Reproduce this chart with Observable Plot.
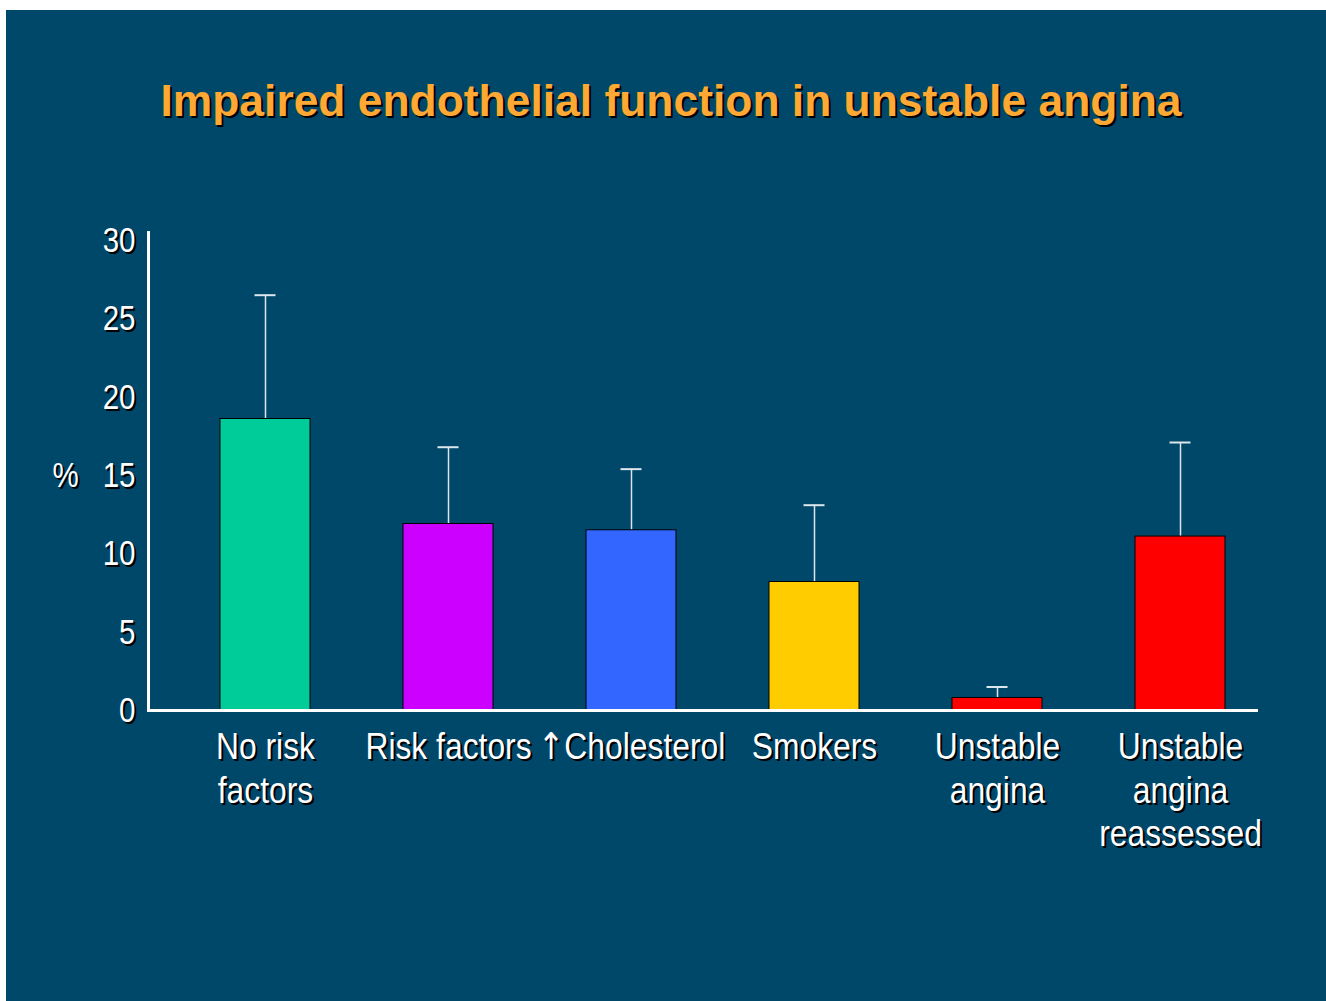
<!DOCTYPE html>
<html>
<head>
<meta charset="utf-8">
<script src="https://cdn.jsdelivr.net/npm/d3@7"></script>
<script src="https://cdn.jsdelivr.net/npm/@observablehq/plot@0.6"></script>
<style>
  html, body { margin: 0; padding: 0; background: #ffffff; }
  #panel { position: absolute; left: 6px; top: 10px; width: 1320px; height: 991px; background: #00486a; overflow: hidden; }
  #title { position: absolute; left: 0; width: 1330px; top: 69px; text-align: center;
    font-family: "Liberation Sans", Arial, sans-serif; font-weight: bold; font-size: 44.4px; line-height: 44px;
    color: #ffa833; text-shadow: 2px 2px 0 #000; white-space: nowrap; }
  #chart { position: absolute; left: 0; top: 170px; }
</style>
</head>
<body>
<div id="panel">
  <div id="title">Impaired endothelial function in unstable angina</div>
  <div id="chart"></div>
</div>
<script>
const categories = ["No risk\nfactors", "Risk factors", "↑Cholesterol", "Smokers", "Unstable\nangina", "Unstable\nangina\nreassessed"];
const values = [18.6, 11.9, 11.5, 8.2, 0.8, 11.1];
const errorTops = [26.5, 16.8, 15.4, 13.1, 1.5, 17.1];
const barColors = ["#00cc99", "#cc00ff", "#3366ff", "#ffcc00", "#ff0000", "#ff0000"];
const yTicks = [0, 5, 10, 15, 20, 25, 30];
const yLabel = "%";

const data = categories.map((c, i) => ({cat: c, value: values[i], err: errorTops[i]}));
const font = '"Liberation Sans", Arial, sans-serif';

const chart = Plot.plot({
  width: 1320,
  height: 821,
  marginTop: 52,
  marginBottom: 291,
  marginLeft: 142,
  marginRight: 68,
  style: {background: "transparent", color: "white", fontFamily: font, fontSize: "36px"},
  x: {domain: categories, paddingInner: 0.51, paddingOuter: 0.278, align: 0.686, label: null},
  y: {domain: [0, 30.5], label: null},
  color: {domain: categories, range: barColors},
  marks: [
    Plot.ruleX(data, {x: "cat", y1: "value", y2: "err", stroke: "#dde6ec", strokeWidth: 1.5}),
    Plot.tickY(data, {x: "cat", y: "err", stroke: "#dde6ec", strokeWidth: 2, insetLeft: 34.5, insetRight: 34.5}),
    Plot.barY(data, {x: "cat", y: "value", fill: "cat", stroke: "#000", strokeWidth: 1}),
    Plot.frame({anchor: "left", stroke: "white", strokeWidth: 3}),
    Plot.ruleY([0], {stroke: "white", strokeWidth: 3}),
    Plot.axisY(yTicks, {tickSize: 0, tickPadding: 13, color: "black", dx: 2, dy: 2, label: null}),
    Plot.axisY(yTicks, {tickSize: 0, tickPadding: 13, color: "white", label: null}),
    Plot.axisX({tickSize: 0, tickPadding: 18, lineHeight: 1.17, fontSize: 37, color: "black", dx: 2, dy: 2, label: null, className: "xlab"}),
    Plot.axisX({tickSize: 0, tickPadding: 18, lineHeight: 1.17, fontSize: 37, color: "white", label: null, className: "xlab"}),
    Plot.text([yLabel], {frameAnchor: "left", y: 15, dx: -81, dy: 2, fill: "black", textAnchor: "middle"}),
    Plot.text([yLabel], {frameAnchor: "left", y: 15, dx: -83, fill: "white", textAnchor: "middle"})
  ]
});
// condense text horizontally (narrow face look), keeping each anchor point fixed
chart.querySelectorAll("text").forEach(t => {
  const isX = t.closest('[aria-label="x-axis tick label"]') !== null;
  const s = isX ? 0.86 : 0.82;
  if (t.textContent === "↑Cholesterol") {
    t.innerHTML = '<tspan style="font-family: \'DejaVu Sans\'">↑</tspan>Cholesterol';
  }
  const x = +(t.getAttribute("x") || 0);
  const tr = t.getAttribute("transform") || "";
  t.setAttribute("transform", `${tr} translate(${x},0) scale(${s},1) translate(${-x},0)`);
});
document.getElementById("chart").appendChild(chart);
</script>
</body>
</html>
